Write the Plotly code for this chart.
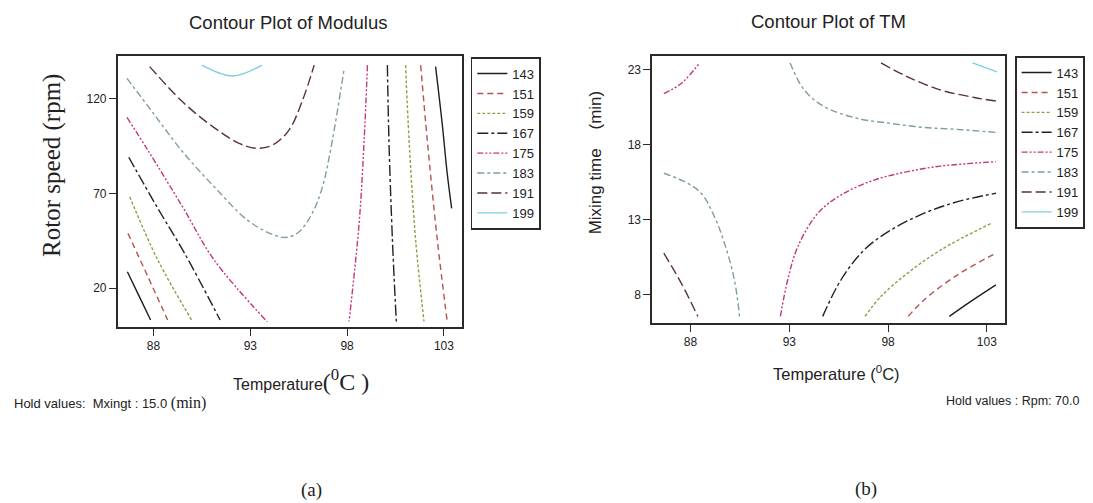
import plotly.graph_objects as go

OFF = 8  # page body margin of the browser
W, H = 1093 - 2 * OFF, 503 - OFF

# ---------------- data ----------------
levels = [143, 151, 159, 167, 175, 183, 191, 199]
level_colors = ["#1e1e1e", "#b5534f", "#8f9e45", "#222222", "#c4367e", "#7f9f98", "#5b3234", "#7fcfe0"]
level_dashes = ["solid", "6px,4px", "3px,2px", "11px,3px,3px,3px", "6px,2px,2px,2px,2px,2px",
                "7px,3px,3px,3px", "10px,4px", "solid"]

x_ticks = [88, 93, 98, 103]
mod_y_ticks = [20, 70, 120]
tm_y_ticks = [8, 13, 18, 23]

# Contour plot of Modulus (Temperature vs Rotor speed), segments per level
mod_143 = [[(86.65, 28.7), (87.25, 16.0), (87.85, 3.3)],
           [(102.57, 136.7), (102.91, 106.8), (103.17, 80.5), (103.40, 62.1)]]
mod_151 = [[(86.68, 48.9), (87.71, 26.1), (88.73, 3.3)],
           [(101.80, 137.5), (102.14, 98.0), (102.66, 45.4), (103.17, 2.5)]]
mod_159 = [[(86.77, 68.2), (88.22, 34.9), (90.02, 2.4)],
           [(101.02, 137.5), (101.20, 98.0), (101.54, 45.4), (101.97, 2.5)]]
mod_167 = [[(86.72, 89.0), (88.22, 62.1), (89.60, 38.5), (91.44, 3.3)],
           [(100.08, 137.5), (100.16, 98.0), (100.34, 45.4), (100.54, 2.5)]]
mod_175 = [[(86.63, 110.0), (87.70, 92.8), (89.50, 62.9), (91.13, 34.9), (93.87, 2.4)],
           [(99.05, 137.5), (98.88, 98.1), (98.62, 54.2), (98.10, 2.5)]]
mod_183 = [[(86.63, 130.5), (88.00, 112.0), (89.50, 91.9), (91.13, 73.5), (92.85, 55.9),
            (94.20, 48.1), (94.90, 46.8), (95.52, 49.8), (96.20, 59.5), (96.73, 73.5),
            (97.24, 98.1), (97.85, 135.8)]]
mod_191 = [[(87.80, 136.7), (89.50, 118.2), (91.06, 105.1), (92.43, 96.3), (93.30, 93.7),
            (94.15, 95.4), (95.00, 103.3), (95.70, 119.1), (96.30, 137.5)]]
mod_199 = [[(90.50, 137.5), (92.09, 131.8), (93.60, 137.5)]]

# Contour plot of TM (Temperature vs Mixing time), segments per level
tm_143 = [[(101.10, 6.56), (102.19, 7.56), (103.46, 8.66)]]
tm_151 = [[(99.02, 6.56), (99.83, 7.67), (101.52, 9.33), (103.46, 10.77)]]
tm_159 = [[(96.83, 6.56), (97.64, 7.89), (98.99, 9.44), (100.67, 10.99), (103.29, 12.80)]]
tm_167 = [[(94.69, 6.56), (95.62, 9.00), (96.80, 11.00), (98.15, 12.32), (99.83, 13.43),
           (101.52, 14.20), (103.46, 14.76)]]
tm_175 = [[(86.65, 21.40), (87.53, 22.07), (88.46, 23.44)],
          [(92.55, 6.56), (92.92, 9.00), (93.43, 11.20), (94.44, 13.42), (95.62, 14.65),
           (97.30, 15.64), (98.99, 16.20), (100.67, 16.57), (103.46, 16.86)]]
tm_183 = [[(86.65, 16.09), (87.70, 15.53), (88.54, 14.76), (89.21, 13.20), (89.72, 11.43),
           (90.22, 9.00), (90.48, 6.56)],
          [(93.04, 23.44), (93.76, 21.63), (94.78, 20.52), (96.46, 19.74), (98.15, 19.41),
           (99.83, 19.14), (101.52, 19.01), (103.46, 18.81)]]
tm_191 = [[(86.65, 10.77), (87.53, 8.78), (88.37, 6.56)],
          [(97.64, 23.44), (98.99, 22.51), (100.67, 21.63), (102.36, 21.14), (103.46, 20.90)]]
tm_199 = [[(102.28, 23.44), (103.51, 22.84)]]

mod_lines = [mod_143, mod_151, mod_159, mod_167, mod_175, mod_183, mod_191, mod_199]
tm_lines = [tm_143, tm_151, tm_159, tm_167, tm_175, tm_183, tm_191, tm_199]

# ---------------- helpers ----------------
def px(x):
    return (x - OFF) / W

def py(y):
    return 1 - (y - OFF) / H

def seg_xy(segments):
    xs, ys = [], []
    for k, seg in enumerate(segments):
        if k:
            xs.append(None)
            ys.append(None)
        xs += [p[0] for p in seg]
        ys += [p[1] for p in seg]
    return xs, ys

SANS = "Liberation Sans Narrow, Liberation Sans, Arial, sans-serif"
SERIF = "Liberation Serif, Times New Roman, serif"

fig = go.Figure()

for i, lev in enumerate(levels):
    xs, ys = seg_xy(mod_lines[i])
    fig.add_trace(go.Scatter(
        x=xs, y=ys, mode="lines", name=str(lev), xaxis="x", yaxis="y", legend="legend",
        line=dict(color=level_colors[i], dash=level_dashes[i], width=1.4, shape="spline", smoothing=1.0),
        hoverinfo="skip"))
for i, lev in enumerate(levels):
    xs, ys = seg_xy(tm_lines[i])
    fig.add_trace(go.Scatter(
        x=xs, y=ys, mode="lines", name=str(lev), xaxis="x2", yaxis="y2", legend="legend2",
        line=dict(color=level_colors[i], dash=level_dashes[i], width=1.4, shape="spline", smoothing=1.0),
        hoverinfo="skip"))

axis_common = dict(showgrid=False, zeroline=False, showline=True, mirror=True,
                   linecolor="#2a2a2a", linewidth=1.6, ticks="outside", ticklen=7,
                   tickcolor="#2a2a2a", tickwidth=1.2,
                   tickfont=dict(family=SANS, size=12, color="#222"))

legend_common = dict(bgcolor="white", bordercolor="#2a2a2a", borderwidth=1.6,
                     font=dict(family=SANS, size=13, color="#222"),
                     itemwidth=30, tracegroupgap=0, xanchor="left", yanchor="top",
                     itemclick=False, itemdoubleclick=False)

fig.update_layout(
    width=W, height=H, margin=dict(l=0, r=0, t=0, b=0),
    paper_bgcolor="white", plot_bgcolor="white",
    xaxis=dict(domain=[px(118), px(463)], range=[86.15, 103.92], tickvals=x_ticks,
               anchor="y", **axis_common),
    yaxis=dict(domain=[py(327), py(56)], range=[-0.4, 142.3], tickvals=mod_y_ticks,
               anchor="x", **axis_common),
    xaxis2=dict(domain=[px(654), px(1008)], range=[86.06, 103.93], tickvals=x_ticks,
                anchor="y2", **axis_common),
    yaxis2=dict(domain=[py(323), py(56)], range=[6.12, 23.9], tickvals=tm_y_ticks,
                anchor="x2", **axis_common),
    legend=dict(x=px(472), y=py(57), **legend_common),
    legend2=dict(x=px(1018), y=py(56), **legend_common),
    showlegend=True,
)

def note(text, x, y, size, family=SANS, xanchor="center", angle=0, color="#222"):
    fig.add_annotation(text=text, x=px(x), y=py(y), xref="paper", yref="paper",
                       xanchor=xanchor, yanchor="middle", showarrow=False, textangle=angle,
                       font=dict(family=family, size=size, color=color))

note("Contour Plot of Modulus", 289, 23, 18.5)
note("Contour Plot of TM", 831, 22, 18.5)
note("Temperature<span style='font-family:Liberation Serif;font-size:24px'>(<sup>0</sup>C )</span>",
     302, 380, 16)
note("Rotor speed (rpm)", 52, 165, 25, family=SERIF, angle=-90)
note("Mixing time\u00a0\u00a0\u00a0\u00a0(min)", 597, 162, 17, angle=-90)
note("Temperature\u00a0(<sup>0</sup>C)", 839, 373, 16.5)
note("Hold values:\u00a0\u00a0Mxingt\u00a0: 15.0 <span style='font-family:Liberation Serif;font-size:16px'>(min)</span>",
     12, 403, 13, xanchor="left")
note("Hold values : Rpm: 70.0", 1084, 401, 12.5, xanchor="right")
note("(a)", 312, 490, 19, family=SERIF)
note("(b)", 868, 489, 19, family=SERIF)

fig.write_html("out.html")
